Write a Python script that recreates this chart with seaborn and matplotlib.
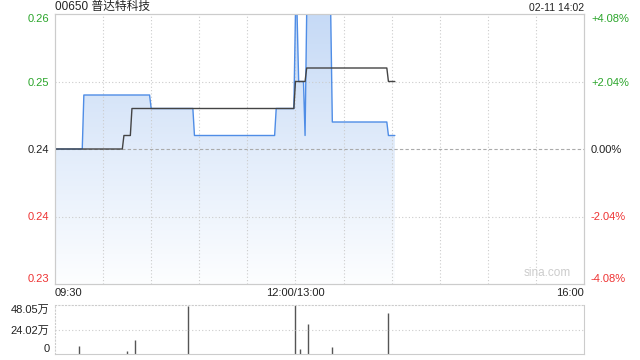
import numpy as np
import pandas as pd
import matplotlib
matplotlib.use("Agg")
import matplotlib.pyplot as plt
import seaborn as sns
from matplotlib.patches import Polygon
from matplotlib.transforms import blended_transform_factory

# ---------------- data ----------------
prev_close = 0.245
price_times = ["09:30", "09:47", "09:48", "10:29", "10:30", "10:56", "10:57", "11:47",
               "11:48", "11:59", "13:00", "13:01", "13:02", "13:05", "13:06", "13:07",
               "13:22", "13:23", "13:57", "13:58", "14:02"]
price_values = [0.245, 0.245, 0.249, 0.249, 0.248, 0.248, 0.246, 0.246,
                0.248, 0.248, 0.255, 0.255, 0.250, 0.250, 0.246, 0.255,
                0.255, 0.247, 0.247, 0.246, 0.246]

avg_times = ["09:30", "10:12", "10:13", "10:17", "10:18", "11:59", "13:00", "13:06",
             "13:07", "13:57", "13:58", "14:02"]
avg_values = [0.245, 0.245, 0.246, 0.246, 0.248, 0.248, 0.250, 0.250,
              0.251, 0.251, 0.250, 0.250]

vol_times = ["09:45", "10:15", "10:20", "10:53", "13:00", "13:03", "13:08", "13:23", "13:58"]
vol_values = [8.1, 3.0, 14.0, 47.5, 48.05, 5.0, 29.4, 7.0, 40.0]  # 万

y_ticks = [0.235, 0.240, 0.245, 0.250, 0.255]
y_left_labels = ["0.23", "0.24", "0.24", "0.25", "0.26"]
y_right_labels = ["-4.08%", "-2.04%", "0.00%", "+2.04%", "+4.08%"]
vol_ticks = [0, 24.02, 48.05]
vol_labels = ["0", "24.02万", "48.05万"]
x_tick_labels = ["09:30", "12:00/13:00", "16:00"]
title_text = "00650 普达特科技"
stamp_text = "02-11 14:02"


def to_idx(t):
    h, m = map(int, t.split(":"))
    tm = h * 60 + m
    if tm <= 12 * 60:
        return tm - (9 * 60 + 30)
    return tm - 13 * 60 + 150


TOTAL = 330

price_df = pd.DataFrame({"x": [to_idx(t) for t in price_times], "y": price_values})
avg_df = pd.DataFrame({"x": [to_idx(t) for t in avg_times], "y": avg_values})
vol_df = pd.DataFrame({"x": [to_idx(t) for t in vol_times], "v": vol_values})

# ---------------- style ----------------
sns.set_theme(style="white")
plt.rcParams["font.family"] = ["Liberation Sans", "Noto Sans CJK SC", "DejaVu Sans"]
plt.rcParams["font.size"] = 8

GREEN = "#2aa52a"
RED = "#ee3333"
GRID = "#cccccc"
BLUE = "#4f8de6"

fig = plt.figure(figsize=(6.4, 3.6), dpi=100)
ax = fig.add_axes([55 / 640, 1 - 284 / 360, 529 / 640, 270 / 360])
axv = fig.add_axes([55 / 640, 1 - 354 / 360, 529 / 640, 49 / 360])

lo, hi = 0.235, 0.255
ax.set_xlim(0, TOTAL)
ax.set_ylim(lo, hi)

# gradient fill under price line
grad = np.linspace(0, 1, 256).reshape(-1, 1)
top_c = np.array([198, 218, 246]) / 255
bot_c = np.array([253, 254, 255]) / 255
img = top_c * (1 - grad[..., None]) + bot_c * grad[..., None]
img = img.reshape(256, 1, 3)
im = ax.imshow(img, extent=[0, TOTAL, lo, hi], aspect="auto", origin="upper", zorder=1)
verts = [(price_df.x.iloc[0], lo)] + list(zip(price_df.x, price_df.y)) + [(price_df.x.iloc[-1], lo)]
poly = Polygon(verts, closed=True, facecolor="none", edgecolor="none")
ax.add_patch(poly)
im.set_clip_path(poly)

# grid
for k in range(1, 11):
    ax.axvline(k * 30, color=GRID, lw=0.8, ls=(0, (1, 2)), zorder=2)
for yv in [0.240, 0.250]:
    ax.axhline(yv, color=GRID, lw=0.8, ls=(0, (1, 2)), zorder=2)
ax.axhline(prev_close, color="#aaaaaa", lw=0.8, ls=(0, (3, 2)), zorder=2)

sns.lineplot(data=price_df, x="x", y="y", ax=ax, color=BLUE, lw=1.0, estimator=None,
             sort=False, zorder=4)
sns.lineplot(data=avg_df, x="x", y="y", ax=ax, color="#444444", lw=1.0, estimator=None,
             sort=False, zorder=5)

ax.set_xlabel("")
ax.set_ylabel("")
ax.set_yticks(y_ticks)
ax.set_yticklabels(y_left_labels)
colors = [RED, RED, "#222222", GREEN, GREEN]
for lab, c in zip(ax.get_yticklabels(), colors):
    lab.set_color(c)
labs = ax.get_yticklabels()
labs[0].set_verticalalignment("bottom")
labs[-1].set_verticalalignment("top")
ax.tick_params(axis="y", length=0, pad=4, labelsize=8)
ax.set_xticks([0, 150, TOTAL])
ax.set_xticklabels(x_tick_labels)
xl = ax.get_xticklabels()
xl[0].set_horizontalalignment("left")
xl[-1].set_horizontalalignment("right")
ax.tick_params(axis="x", length=0, pad=3, labelsize=8, labelcolor="#222222")

axr = ax.twinx()
axr.set_ylim(lo, hi)
axr.set_yticks(y_ticks)
axr.set_yticklabels(y_right_labels)
for lab, c in zip(axr.get_yticklabels(), colors):
    lab.set_color(c)
rl = axr.get_yticklabels()
rl[0].set_verticalalignment("bottom")
rl[-1].set_verticalalignment("top")
axr.tick_params(axis="y", length=0, pad=5, labelsize=8)
axr.grid(False)

for a in (ax, axr):
    for s in a.spines.values():
        s.set_color(GRID)
        s.set_linewidth(0.8)

ax.text(0.975, 0.02, "sina.com", transform=ax.transAxes, ha="right", va="bottom",
        color="#cccccc", fontsize=8.5, zorder=6)

fig.text(55 / 640, 1 - 7 / 360, title_text, ha="left", va="center", fontsize=8.5,
         color="#222222")
fig.text(584 / 640, 1 - 8 / 360, stamp_text, ha="right", va="center", fontsize=7.5,
         color="#222222")

# ---------------- volume ----------------
axv.set_xlim(0, TOTAL)
axv.set_ylim(0, 48.05)
axv.vlines(vol_df.x, 0, vol_df.v, color="#555555", lw=1.0)
axv.axhline(24.02, color=GRID, lw=0.8, ls=(0, (1, 2)))
axv.set_xticks([])
axv.set_yticks(vol_ticks)
axv.set_yticklabels(vol_labels)
vl = axv.get_yticklabels()
vl[0].set_verticalalignment("bottom")
vl[-1].set_verticalalignment("top")
axv.tick_params(axis="y", length=0, pad=4, labelsize=8, labelcolor="#222222")
for name, s in axv.spines.items():
    s.set_color(GRID)
    s.set_linewidth(0.8)
axv.spines["top"].set_linestyle((0, (1, 2)))
axv.spines["left"].set_linestyle((0, (1, 2)))

fig.savefig("out.png", dpi=100)
